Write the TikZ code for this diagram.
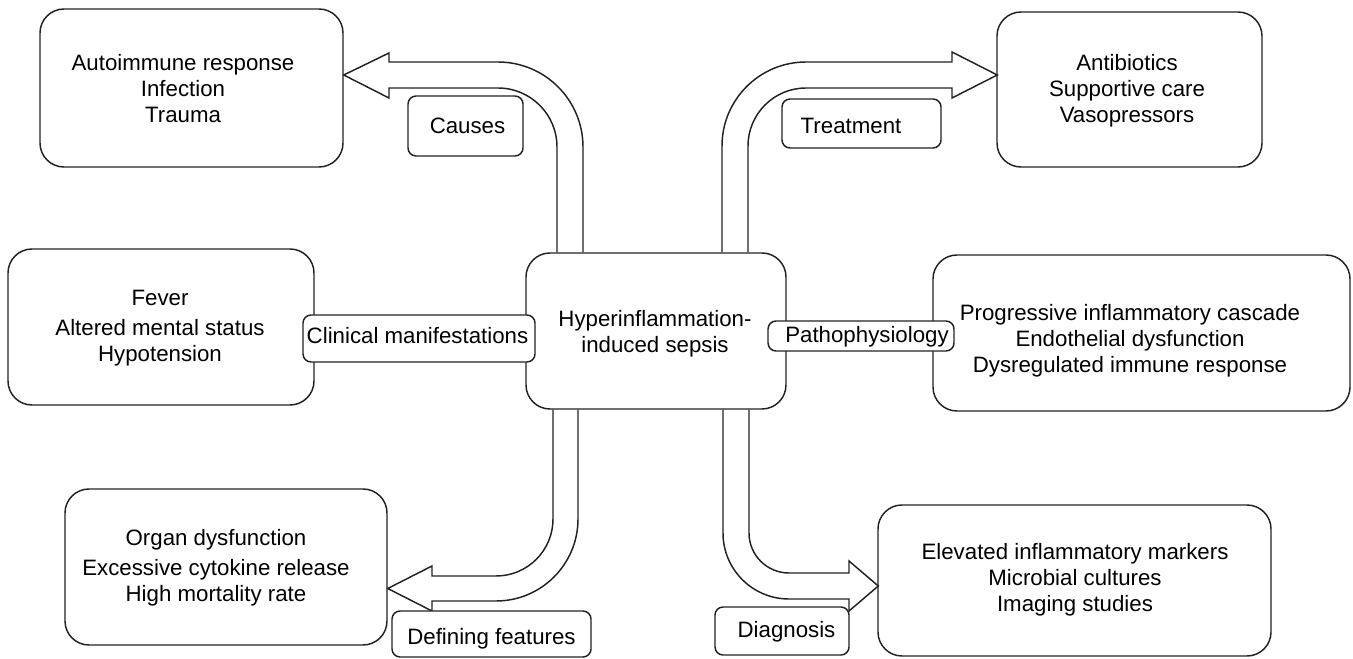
\documentclass[tikz,border=0pt]{standalone}
\usepackage{fontspec}
\setmainfont{Liberation Sans}
\usetikzlibrary{calc}
\definecolor{lc}{HTML}{222222}
\begin{document}
\begin{tikzpicture}[x=0.75pt,y=-0.75pt,line width=1.1pt,
  rbox/.style n args={2}{draw=lc, rounded corners=18pt, minimum width=#1*0.75pt, minimum height=#2*0.75pt, inner sep=0pt},
  lbox/.style n args={2}{draw=lc, fill=white, rounded corners=6pt, minimum width=#1*0.75pt, minimum height=#2*0.75pt, inner sep=0pt},
  txt/.style={align=center, inner sep=0pt, font=\fontsize{16.7}{19.5}\selectfont},
  ltxt/.style={inner sep=0pt, text height=0.72em, text depth=0.21em, font=\fontsize{16.7}{19.5}\selectfont},
  blockarrow/.style={draw=lc, line join=miter}
]
\useasboundingbox (0,0) rectangle (1353,659);

% main boxes
\node[rbox={303}{158}] (tl) at (191.5,88) {};
\node[txt] (tlt) at (183,89) {Autoimmune response\\Infection\\Trauma};

\node[rbox={265}{155}] (tr) at (1129.5,89.5) {};
\node[txt] (trt) at (1127,91) {Antibiotics\\Supportive care\\Vasopressors};

\node[rbox={306}{156}] (lm) at (161,327) {};
\node[txt] (lmt) at (160,328.3) {Fever\\[3.5pt]Altered mental status\\Hypotension};

\node[rbox={260}{156}] (c) at (656,331) {};
\node[txt] (ct) at (655,333.3) {Hyperinflammation-\\induced sepsis};

\node[rbox={417}{156}] (rm) at (1141.5,333) {};
\node[txt] (rmt) at (1130,340.8) {Progressive inflammatory cascade\\Endothelial dysfunction\\Dysregulated immune response};

\node[rbox={322}{156}] (bl) at (226,567) {};
\node[txt] (blt) at (216,567.8) {Organ dysfunction\\[3.5pt]Excessive cytokine release\\High mortality rate};

\node[rbox={393}{151}] (br) at (1074.5,580.5) {};
\node[txt] (brt) at (1075,579.8) {Elevated inflammatory markers\\Microbial cultures\\Imaging studies};

% block arrows
% Causes
\draw[blockarrow] ($(c.north)+(-99,0)$) -- (557,147) arc[start angle=0, end angle=-90, radius=59]
  -- (389,88) -- (389,98) -- ($(tl.east)+(0,-13)$) -- (389,53) -- (389,62) -- (498,62)
  arc[start angle=-90, end angle=0, radius=85] -- ($(c.north)+(-73,0)$);
% Treatment
\draw[blockarrow] ($(c.north)+(92,0)$) -- (748,146) arc[start angle=180, end angle=270, radius=58]
  -- (952,88) -- (952,98) -- ($(tr.west)+(1,-14.5)$) -- (952,52) -- (952,62) -- (806,62)
  arc[start angle=270, end angle=180, radius=84] -- ($(c.north)+(66,0)$);
% Defining features
\draw[blockarrow] ($(c.south)+(-103,0)$) -- (553,519) arc[start angle=0, end angle=90, radius=57]
  -- (432,576) -- (432,566) -- ($(bl.east)+(0,21.5)$) -- (432,611) -- (432,601) -- (496,601)
  arc[start angle=90, end angle=0, radius=82] -- ($(c.south)+(-78,0)$);
% Diagnosis
\draw[blockarrow] ($(c.south)+(67,0)$) -- (723,533) arc[start angle=180, end angle=90, radius=66]
  -- (849,599) -- (849,611) -- ($(br.west)+(1,5.5)$) -- (849,561) -- (849,573) -- (789,573)
  arc[start angle=90, end angle=180, radius=40] -- ($(c.south)+(93,0)$);

% labels
\node[lbox={115}{60}] (causes) at (465.5,126) {};
\node[ltxt] (causest) at (467.5,130.3) {Causes};

\node[lbox={159}{49}] (treat) at (861.5,123.5) {};
\node[ltxt] (treatt) at (851,130.3) {Treatment};

\node[lbox={232}{47}] (clin) at (419,338.5) {};
\node[ltxt] (clint) at (417.5,340.3) {Clinical manifestations};

\node[lbox={186}{30}] (patho) at (861,336) {};
\node[ltxt] (pathot) at (867,339.5) {Pathophysiology};

\node[lbox={199}{46}] (def) at (491.5,634) {};
\node[ltxt] (deft) at (491.5,641.5) {Defining features};

\node[lbox={134}{48}] (diag) at (782,631) {};
\node[ltxt] (diagt) at (786.5,634) {Diagnosis};
\end{tikzpicture}
\end{document}
